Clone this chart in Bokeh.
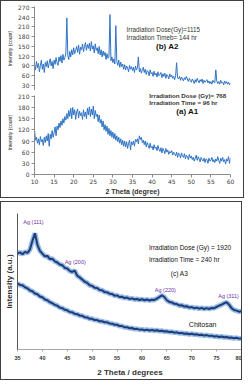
import numpy as np
from bokeh.plotting import figure
from bokeh.layouts import column
from bokeh.models import Range1d, Label, FixedTicker
from bokeh.embed import file_html
from bokeh.resources import INLINE

# ---------------- data ----------------
theta_top = np.arange(10, 60.001, 0.25)  # 2-theta grid of the top panel (degrees)

a2_counts = [
    95, 78, 104, 85,  98, 72, 92, 108,  80, 96, 70, 101,  88, 106, 84, 99,
    112, 90, 104, 82,  108, 95, 116, 100,  92, 118, 104, 122,  99, 126, 108, 115,
    130, 238, 122, 110,  135, 118, 140, 124,  146, 128, 138, 150,  132, 155, 126, 148,
    140, 158, 134, 150,  162, 138, 156, 144,  160, 136, 165, 142,  152, 130, 158, 138,
    146, 128, 150, 124,  140, 118, 136, 122,  132, 110, 128, 114,  120, 248, 106, 118,
    100, 112, 96, 214,  104, 92, 108, 86,  102, 88, 96, 80,  94, 78, 90, 84,
    72, 92, 80, 88,  76, 86, 70, 90,  78, 84, 118, 72,  82, 68, 78, 86,
    70, 80, 64, 76,  72, 60, 78, 66,  70, 58, 74, 62,  68, 56, 72, 60,
    64, 70, 54, 66,  58, 68, 52, 64,  60, 50, 66, 56,  62, 52, 58, 48,
    60, 100, 54, 50,  58, 46, 56, 50,  44, 54, 48, 58,  50, 42, 52, 46,
    40, 50, 44, 36,  48, 40, 52, 44,  38, 48, 42, 50,  36, 46, 40, 44,
    48, 38, 44, 36,  42, 34, 46, 40,  38, 78, 44, 36,  42, 34, 46, 38,
    40, 32, 44, 36,  42, 34, 40, 32,  38,
]

a1_counts = [
    120, 92, 100, 84,  96, 80, 102, 88,  94, 78, 100, 86,  104, 90, 110, 76,
    108, 96, 118, 100,  112, 128, 104, 130,  120, 138, 126, 144,  132, 150, 138, 156,
    146, 164, 150, 172,  156, 178, 150, 180,  160, 174, 148, 168,  176, 152, 170, 158,
    166, 148, 174, 156,  168, 150, 178, 160,  182, 156, 176, 160,  184, 150, 172, 156,
    162, 142, 160, 138,  148, 128, 144, 120,  134, 116, 130, 108,  124, 104, 118, 100,
    114, 96, 110, 92,  104, 88, 100, 84,  96, 80, 92, 76,  90, 74, 88, 70,
    84, 92, 66, 88,  80, 90, 76, 94,  88, 96, 82, 104,  94, 100, 86, 92,
    80, 90, 74, 86,  78, 70, 84, 72,  76, 66, 80, 70,  74, 64, 78, 68,
    62, 72, 58, 70,  64, 56, 70, 60,  66, 54, 62, 58,  64, 52, 60, 56,
    50, 60, 46, 58,  54, 44, 58, 50,  46, 56, 42, 52,  48, 40, 54, 44,
    50, 40, 46, 36,  44, 52, 38, 48,  42, 34, 46, 40,  36, 44, 32, 42,
    40, 30, 44, 36,  38, 46, 34, 40,  32, 42, 36, 48,  38, 30, 44, 36,
    46, 34, 40, 28,  42, 36, 48, 30,  44,
]

theta_bot = np.arange(35, 80.001, 0.5)  # 2-theta grid of the bottom panel (degrees)

a3_intensity = [
    70.5, 71.5, 70.0, 71.8, 71.0, 73.5, 80.0, 85.5, 77.0, 72.5,
    70.5, 68.5, 68.8, 66.5, 66.8, 64.8, 64.0, 62.5, 62.0, 60.0,
    59.6, 57.8, 57.0, 58.0, 54.2, 53.0, 51.4, 49.8, 49.0, 47.2,
    46.8, 45.4, 45.2, 43.8, 43.6, 42.2, 42.0, 41.0, 40.8, 39.6,
    39.8, 38.6, 38.8, 37.8, 38.2, 37.2, 37.6, 36.8, 37.2, 36.4,
    37.0, 36.2, 36.8, 36.0, 36.6, 36.4, 37.4, 38.6, 39.8, 38.6,
    36.2, 35.0, 34.6, 33.6, 33.4, 32.4, 32.6, 31.6, 31.8, 30.8,
    31.2, 30.4, 30.8, 30.0, 30.6, 29.8, 30.4, 29.8, 30.6, 30.4,
    31.4, 32.2, 33.0, 34.0, 34.8, 33.0, 30.4, 29.0, 28.6, 27.8,
    28.2,
]

chitosan_intensity = [
    48.6, 47.4, 47.2, 45.8, 45.0, 43.4, 42.8, 41.2, 40.6, 39.0,
    38.4, 36.8, 36.2, 34.8, 34.0, 32.8, 32.2, 30.8, 30.4, 29.2,
    28.8, 27.6, 27.4, 26.2, 26.0, 25.0, 24.8, 23.8, 23.6, 22.6,
    22.6, 21.6, 21.6, 20.8, 20.8, 20.0, 20.0, 19.2, 19.0, 18.2,
    18.2, 17.2, 17.2, 16.4, 16.4, 15.6, 15.8, 15.0, 15.2, 14.6,
    14.8, 14.2, 14.6, 14.0, 14.4, 13.8, 14.2, 13.6, 13.8, 13.2,
    13.4, 12.8, 13.0, 12.4, 12.6, 12.0, 12.2, 11.6, 11.8, 11.2,
    11.6, 11.0, 11.2, 10.6, 10.8, 10.2, 10.6, 10.0, 10.2, 9.6,
    9.8, 9.2, 9.6, 9.0, 9.2, 8.6, 8.8, 8.2, 8.6, 8.0,
    8.2,
]

top_ticks_x = [10, 15, 20, 25, 30, 35, 40, 45, 50, 55, 60]
a2_ticks_y = [30, 60, 90, 120, 150, 180, 210, 240, 270]
a1_ticks_y = [0, 30, 60, 90, 120, 150, 180, 210]
bot_ticks_x = [35, 40, 45, 50, 55, 60, 65, 70, 75, 80]

# ---------------- styling helpers ----------------
TICK_FONT = "DejaVu Sans"
SANS = "Liberation Sans"
LINE_BLUE = "#2f73c4"
AXIS_GREY = "#8c8c8c"


def style_top_axis_y(p, ticks, bounds):
    ax = p.yaxis[0]
    ax.ticker = FixedTicker(ticks=ticks)
    ax.bounds = bounds
    ax.minor_tick_line_color = None
    ax.major_tick_in = 0
    ax.major_tick_out = 3
    ax.axis_line_color = AXIS_GREY
    ax.major_tick_line_color = AXIS_GREY
    ax.major_label_text_font = TICK_FONT
    ax.major_label_text_font_size = "6px"
    ax.major_label_text_color = "#404040"
    ax.major_label_standoff = 2
    ax.axis_label = "Intensity (count)"
    ax.axis_label_text_font = SANS
    ax.axis_label_text_font_size = "5px"
    ax.axis_label_text_font_style = "normal"
    ax.axis_label_text_color = "#222222"
    ax.axis_label_standoff = 2


def base_fig(**kw):
    p = figure(output_backend="svg", toolbar_location=None, **kw)
    p.grid.visible = False
    p.outline_line_color = None
    p.background_fill_color = "white"
    p.border_fill_color = "white"
    return p


# ---------------- top panel: A2 ----------------
p_a2 = base_fig(width=242, height=89, x_range=Range1d(10, 60), y_range=Range1d(14.6, 273),
                min_border_top=5, min_border_bottom=0, min_border_left=33, min_border_right=13)
p_a2.xaxis.visible = False
style_top_axis_y(p_a2, a2_ticks_y, (14.6, 273))
p_a2.line(theta_top, a2_counts, line_color=LINE_BLUE, line_width=1)

for txt, y in [("Irradiation Dose(Gy)=1115", 202), ("Irradiation Timeb= 144 hr", 178)]:
    p_a2.add_layout(Label(x=33.5, y=y, text=txt, text_font=SANS, text_font_size="6.3px",
                          text_color="#333333", text_baseline="middle"))
p_a2.add_layout(Label(x=43.9, y=150, text="(b) A2", text_font=SANS, text_font_size="8px",
                      text_font_style="bold", text_color="#111111", text_baseline="middle",
                      text_align="center"))

# ---------------- top panel: A1 ----------------
p_a1 = base_fig(width=242, height=107, x_range=Range1d(10, 60), y_range=Range1d(0, 225.7),
                min_border_top=0, min_border_bottom=0, min_border_left=33, min_border_right=13)
style_top_axis_y(p_a1, a1_ticks_y, (0, 213))
xa = p_a1.xaxis[0]
xa.ticker = FixedTicker(ticks=top_ticks_x)
xa.minor_tick_line_color = None
xa.major_tick_in = 0
xa.major_tick_out = 3
xa.axis_line_color = AXIS_GREY
xa.major_tick_line_color = AXIS_GREY
xa.major_label_text_font = TICK_FONT
xa.major_label_text_font_size = "6px"
xa.major_label_text_color = "#404040"
xa.major_label_standoff = 1
xa.axis_label = "2 Theta (degree)"
xa.axis_label_text_font = SANS
xa.axis_label_text_font_size = "7px"
xa.axis_label_text_font_style = "bold"
xa.axis_label_text_color = "#333333"
xa.axis_label_standoff = 1
p_a1.line(theta_top, a1_counts, line_color=LINE_BLUE, line_width=1)

for txt, y in [("Irradiation Dose (Gy)= 768", 212), ("Irradiation Time = 96 hr", 194)]:
    p_a1.add_layout(Label(x=39.3, y=y, text=txt, text_font=SANS, text_font_size="6.2px",
                          text_font_style="bold", text_color="#333333", text_baseline="middle"))
p_a1.add_layout(Label(x=49.0, y=168, text="(a) A1", text_font=SANS, text_font_size="8px",
                      text_font_style="bold", text_color="#111111", text_baseline="middle",
                      text_align="center"))

top_panel = column(p_a2, p_a1, spacing=0,
                   styles={"border": "1px solid #404040", "background-color": "white"})

# ---------------- bottom panel: A3 vs chitosan ----------------
p3 = base_fig(width=242, height=179, x_range=Range1d(35.0, 80.2), y_range=Range1d(0, 100),
              min_border_top=11, min_border_bottom=32, min_border_left=16, min_border_right=1,
              styles={"border": "1px solid #404040"})
bx = p3.xaxis[0]
bx.ticker = FixedTicker(ticks=bot_ticks_x)
bx.minor_tick_line_color = None
bx.major_tick_in = 0
bx.major_tick_out = 2
bx.axis_line_color = "#a6a6a6"
bx.major_tick_line_color = "#a6a6a6"
bx.major_label_text_font = SANS
bx.major_label_text_font_size = "5.5px"
bx.major_label_text_font_style = "bold"
bx.major_label_text_color = "#333333"
bx.major_label_standoff = 4
bx.axis_label = "2 Theta / degrees"
bx.axis_label_text_font = SANS
bx.axis_label_text_font_size = "8px"
bx.axis_label_text_font_style = "bold"
bx.axis_label_text_color = "#333333"
bx.axis_label_standoff = 5

by = p3.yaxis[0]
by.ticker = FixedTicker(ticks=[])
by.minor_tick_line_color = None
by.major_tick_line_color = None
by.axis_line_color = "#555555"
by.axis_label = "Intensity (a.u.)"
by.axis_label_text_font = SANS
by.axis_label_text_font_size = "8px"
by.axis_label_text_font_style = "bold"
by.axis_label_text_color = "#333333"
by.axis_label_standoff = 4

for series in (a3_intensity, chitosan_intensity):
    p3.line(theta_bot, series, line_color="#8fb6e3", line_width=5, line_alpha=0.9)
    p3.line(theta_bot, series, line_color="#1d3c78", line_width=2)

for txt, x, y in [("Ag (111)", 38.2, 93.4), ("Ag (200)", 46.6, 64.0),
                  ("Ag (220)", 64.7, 43.4), ("Ag (311)", 77.4, 39.0)]:
    p3.add_layout(Label(x=x, y=y, text=txt, text_font=SANS, text_font_size="5.5px",
                        text_color="#7030a0", text_align="center", text_baseline="middle"))

for txt, y in [("Irradiation Dose (Gy) = 1920", 75.0), ("Irradiation Time = 240 hr", 66.2)]:
    p3.add_layout(Label(x=61.4, y=y, text=txt, text_font=SANS, text_font_size="6.5px",
                        text_color="#111111", text_baseline="middle"))
p3.add_layout(Label(x=65.8, y=55.9, text="(c) A3", text_font=SANS, text_font_size="6.5px",
                    text_color="#111111", text_baseline="middle"))
p3.add_layout(Label(x=72.2, y=18.4, text="Chitosan", text_font=SANS, text_font_size="7px",
                    text_color="#111111", text_align="center", text_baseline="middle"))

layout = column(top_panel, p3, spacing=3)

open("out.html", "w").write(file_html(layout, INLINE))
